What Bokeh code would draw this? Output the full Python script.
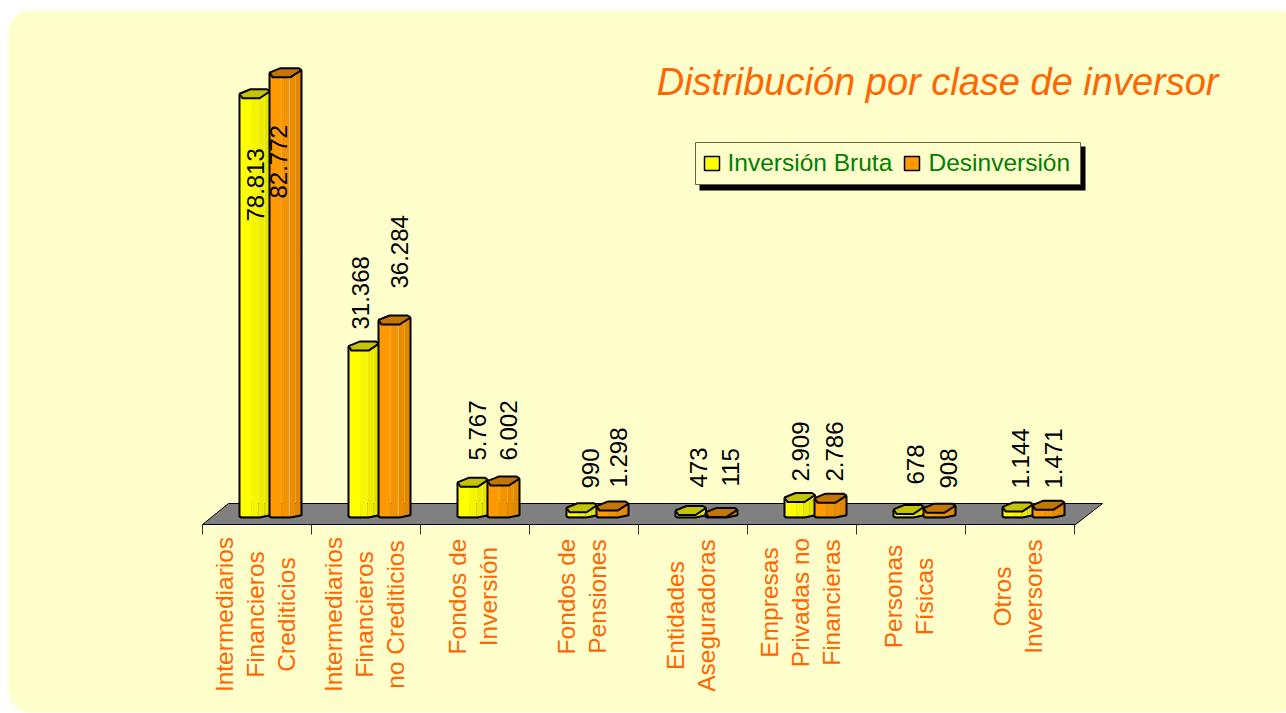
import math
from bokeh.plotting import figure
from bokeh.models import Range1d
from bokeh.core.properties import value
from bokeh.embed import file_html
from bokeh.resources import INLINE

title_text = "Distribución por clase de inversor"
series_names = ["Inversión Bruta", "Desinversión"]
categories = [
    ["Intermediarios", "Financieros", "Crediticios"],
    ["Intermediarios", "Financieros", "no Crediticios"],
    ["Fondos de", "Inversión"],
    ["Fondos de", "Pensiones"],
    ["Entidades", "Aseguradoras"],
    ["Empresas", "Privadas no", "Financieras"],
    ["Personas", "Físicas"],
    ["Otros", "Inversores"],
]
inversion_bruta = [78813, 31368, 5767, 990, 473, 2909, 678, 1144]
desinversion = [82772, 36284, 6002, 1298, 115, 2786, 908, 1471]
value_labels_a = ["78.813", "31.368", "5.767", "990", "473", "2.909", "678", "1.144"]
value_labels_b = ["82.772", "36.284", "6.002", "1.298", "115", "2.786", "908", "1.471"]

# layout of the value labels, in pixels (offset inside the category, bottom end of the text)
label_off_a = [53, 49, 57, 61, 60, 53, 59, 55]
label_off_b = [76, 88, 88, 89, 92, 87, 92, 88]
label_bot_a = [221, 329, 460, 488, 487, 481, 484, 488]
label_bot_b = [198, 288, 460, 487, 486, 481, 488, 488]
label_center = [614, 614, 596, 596, 615, 602, 596, 596]

W, H = 1286, 713
OX, OY = 0, 0
PX_PER_CAT = 109.0
PX_PER_UNIT = 5.32 / 1000
X0, Y0 = 202.0, 517.0

def U(px):
    return (px - X0) / PX_PER_CAT
def V(py):
    return (Y0 - py) / PX_PER_UNIT
def dx(px):
    return px / PX_PER_CAT
def dy(px):
    return px / PX_PER_UNIT

p = figure(width=W, height=H, toolbar_location=None, output_backend="svg",
           x_range=Range1d(U(OX), U(OX + W)), y_range=Range1d(V(OY + H), V(OY)),
           min_border=0, min_border_left=0, min_border_right=0,
           min_border_top=0, min_border_bottom=0,
           background_fill_color="white", border_fill_color="white", outline_line_color=None)
p.axis.visible = False
p.grid.visible = False

FONT = value("Liberation Sans")

# rounded panel
R = 22
L, T, Rt, B = 8, 10, 1300, 712
xs, ys = [], []
for cx, cy, a0 in [(L + R, T + R, 180), (Rt - R, T + R, 270), (Rt - R, B - R, 0), (L + R, B - R, 90)]:
    for k in range(13):
        a = math.radians(a0 + 90 * k / 12)
        xs.append(U(cx + R * math.cos(a)))
        ys.append(V(cy + R * math.sin(a)))
p.patch(xs, ys, fill_color="#FFFFCC", line_color=None)

# floor
p.patch([U(202), U(228), U(1102), U(1075)], [V(524), V(503), V(503), V(524)],
        fill_color="#808080", line_color="black", line_width=1)
n = len(categories)
p.segment(list(range(n + 1)), [V(524)] * (n + 1), list(range(n + 1)), [V(534)] * (n + 1),
          line_color="#333333", line_width=1)

YEL = ["#FFFF00", "#F6F600", "#ECEC00", "#E4E400"]
YEL_TOP = "#C4C400"
ORA = ["#FF9900", "#F49300", "#EA8C00", "#E28800"]
ORA_TOP = "#C47600"
STOPS = [0.0, 0.38, 0.62, 0.82, 1.0]

def draw_bar(i, val, off, w, cols, top):
    left = i + dx(off)
    right = left + dx(w)
    yt = val  # front edge of the cap
    for k in range(4):
        a = left + (right - left) * STOPS[k]
        b = left + (right - left) * STOPS[k + 1]
        p.quad(left=a, right=b, bottom=dy(1) if k < 3 else dy(2), top=yt + dy(6), fill_color=cols[k], line_color=None)
    if val > 30000 and top == ORA_TOP:
        p.segment([left + dx(w * 0.62)], [dy(2)], [left + dx(w * 0.62)], [yt], line_color="#EDB36A", line_width=1)
    bx = [left, left, left + dx(2), left + dx(w * 0.66), right, right]
    by = [yt + dy(4), dy(1), 0, 0, dy(2.2), yt + dy(7)]
    p.line(bx, by, line_color="black", line_width=2)
    cx = [left, left + dx(3), left + dx(w * 0.66), right, right - dx(3), left + dx(11)]
    cy = [yt + dy(4.5), yt, yt, yt + dy(7), yt + dy(9), yt + dy(9)]
    p.patch(cx, cy, fill_color=top, line_color="black", line_width=2)

for i in range(n):
    draw_bar(i, inversion_bruta[i], 37, 30.5, YEL, YEL_TOP)
    draw_bar(i, desinversion[i], 67, 32, ORA, ORA_TOP)

# value labels
p.text([i + dx(o) for i, o in enumerate(label_off_a)], [V(b) for b in label_bot_a],
       text=value_labels_a, angle=math.pi / 2, text_align="left", text_baseline="middle",
       text_font=FONT, text_font_size="24px", text_color="black")
p.text([i + dx(o) for i, o in enumerate(label_off_b)], [V(b) for b in label_bot_b],
       text=value_labels_b, angle=math.pi / 2, text_align="left", text_baseline="middle",
       text_font=FONT, text_font_size="24px", text_color="black")

# category labels
spacing = 31
for i, lines in enumerate(categories):
    m = len(lines)
    for j, line in enumerate(lines):
        px = 52.5 + (j - (m - 1) / 2) * spacing
        p.text([i + dx(px)], [V(label_center[i])], text=[line], angle=math.pi / 2,
               text_align="center", text_baseline="middle",
               text_font=FONT, text_font_size="24.5px", text_color="#FF6600")

# title
p.text([U(1218)], [V(81)], text=[title_text], text_align="right", text_baseline="middle",
       text_font=FONT, text_font_style="italic", text_font_size="38px", text_color="#FF6600")

# legend
p.quad(left=[U(699)], right=[U(1085)], top=[V(146)], bottom=[V(190)], fill_color="black", line_color=None)
p.quad(left=[U(695)], right=[U(1080)], top=[V(142)], bottom=[V(184)], fill_color="#FFFFCC", line_color="#666644", line_width=1)
p.quad(left=[U(704), U(904)], right=[U(719), U(919)], top=[V(156)] * 2, bottom=[V(170)] * 2,
       fill_color=["#FFFF00", "#FF9900"], line_color="black", line_width=1.5)
p.text([U(727), U(928)], [V(162)] * 2, text=series_names, text_align="left", text_baseline="middle",
       text_font=FONT, text_font_size="24.5px", text_color="#008000")

open("out.html", "w").write(file_html(p, INLINE))
